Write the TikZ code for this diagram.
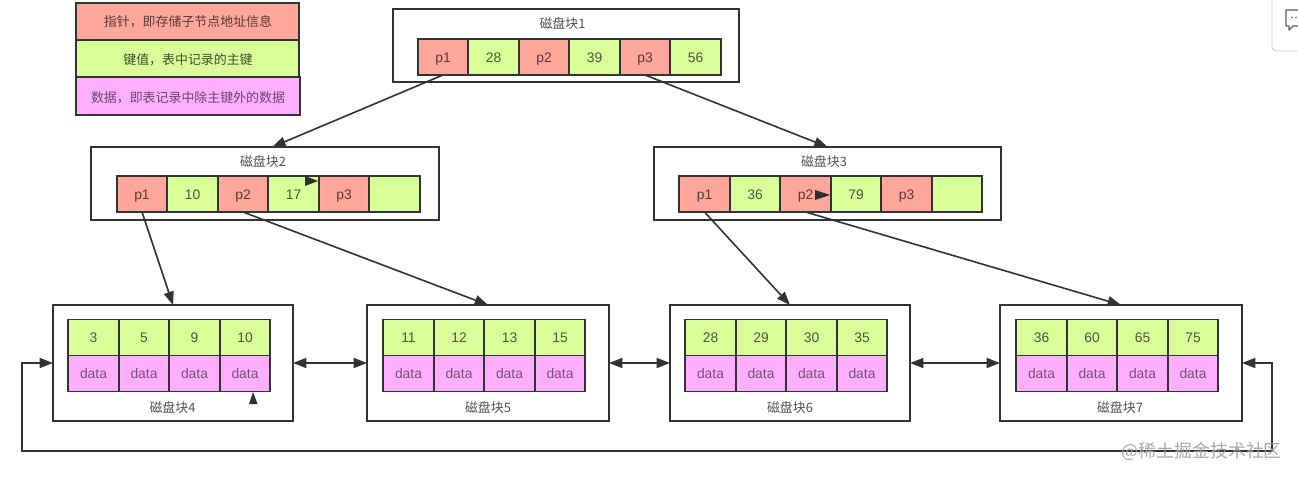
\documentclass[tikz,border=0pt]{standalone}
\usepackage{fontspec}
\setmainfont{Liberation Sans}
\newfontfamily\cjk{Noto Sans CJK SC}
\usetikzlibrary{arrows.meta}
\definecolor{ptrred}{HTML}{FFA79A}
\definecolor{keygreen}{HTML}{D8FF9A}
\definecolor{datapink}{HTML}{FFAFFF}
\definecolor{ink}{HTML}{333333}
\tikzset{
  cellbase/.style={draw=ink,line width=1.3pt,minimum width=37.9pt,minimum height=27pt,inner sep=0pt,outer sep=0pt,text height=8.2pt,text depth=0pt,font=\fontsize{10.4pt}{12pt}\selectfont},
  ptrcell/.style={cellbase,fill=ptrred,text=ptrred!35!black},
  keycell/.style={cellbase,fill=keygreen,text=keygreen!35!black},
  datacell/.style={cellbase,fill=datapink,text=datapink!45!black},
  legendbox/.style={draw=ink,line width=1.3pt,inner sep=0pt,outer sep=0pt},
  legendtext/.style={inner sep=0pt,font=\cjk\fontsize{9.7pt}{12pt}\selectfont},
  blockbox/.style={draw=ink,line width=1.2pt,fill=white,inner sep=0pt,outer sep=0pt},
  blocktitle/.style={text=ink!85,inner sep=0pt,font=\cjk\fontsize{9.7pt}{12pt}\selectfont},
  link/.style={draw=ink,line width=1.2pt,-{Triangle[length=10pt,width=7.5pt]}},
  dlink/.style={draw=ink,line width=1.2pt,{Triangle[length=10pt,width=7.5pt]}-{Triangle[length=10pt,width=7.5pt]}},
  loose/.style={fill=ink!90!black,draw=none}
}
\begin{document}
\begin{tikzpicture}[x=0.75pt,y=-0.75pt]
\useasboundingbox (0,0) rectangle (1298,478);
\fill[white] (0,0) rectangle (1298,478);

% side-panel remnant, top right
\begin{scope}
\clip (0,0) rectangle (1298,478);
\draw[gray!35,line width=0.7pt,rounded corners=3pt] (1272,-10) -- (1272,51) -- (1310,51);
\draw[ink!80,line width=1pt,line join=round] (1298,10) -- (1286,10) -- (1286,26) -- (1289,26) -- (1289,30) -- (1293,26) -- (1298,26);
\fill[ink!80] (1292,17.5) circle (0.9) (1296,17.5) circle (0.9);
\end{scope}

% legend
\node[legendbox,fill=ptrred,minimum width=167.3pt,minimum height=27.4pt] (lg1) at (187.5,21.3) {};
\node[legendbox,fill=keygreen,minimum width=167.3pt,minimum height=28pt] (lg2) at (187.5,58.7) {};
\node[legendbox,fill=datapink,minimum width=168pt,minimum height=28.5pt] (lg3) at (188,96.2) {};
\node[legendtext,text=ptrred!35!black] (lt1) at (188,22) {指针，即存储子节点地址信息};
\node[legendtext,text=keygreen!30!black] (lt2) at (188,60) {键值，表中记录的主键};
\node[legendtext,text=datapink!40!black] (lt3) at (188,98) {数据，即表记录中除主键外的数据};

% blocks
\node[blockbox,minimum width=259.5pt,minimum height=54.8pt] (b1) at (566,45.5) {};
\node[blockbox,minimum width=261pt,minimum height=54.8pt] (b2) at (265,183.5) {};
\node[blockbox,minimum width=260.2pt,minimum height=54.8pt] (b3) at (827.5,183.5) {};
\node[blockbox,minimum width=180pt,minimum height=87pt] (b4) at (173,363) {};
\node[blockbox,minimum width=181.5pt,minimum height=87pt] (b5) at (488,363) {};
\node[blockbox,minimum width=180pt,minimum height=87pt] (b6) at (790,363) {};
\node[blockbox,minimum width=181.5pt,minimum height=87pt] (b7) at (1121,363) {};

\node[blocktitle] (t1) at (562.5,24) {磁盘块1};
\node[blocktitle] (t2) at (263,162) {磁盘块2};
\node[blocktitle] (t3) at (824,162) {磁盘块3};
\node[blocktitle] (t4) at (172.5,408) {磁盘块4};
\node[blocktitle] (t5) at (488,408) {磁盘块5};
\node[blocktitle] (t6) at (790,408) {磁盘块6};
\node[blocktitle] (t7) at (1120,408) {磁盘块7};

% upper cells
\foreach \st/\tx [count=\i from 0] in {ptrcell/p1,keycell/28,ptrcell/p2,keycell/39,ptrcell/p3,keycell/56}
  \node[\st] (a\i) at ({443+50.5*\i},57) {\tx};
\foreach \st/\tx [count=\i from 0] in {ptrcell/p1,keycell/10,ptrcell/p2,keycell/17,ptrcell/p3,keycell/{}}
  \node[\st] (c\i) at ({142+50.5*\i},194) {\tx};
\foreach \st/\tx [count=\i from 0] in {ptrcell/p1,keycell/36,ptrcell/p2,keycell/79,ptrcell/p3,keycell/{}}
  \node[\st] (d\i) at ({704.5+50.5*\i},194) {\tx};

% leaf cells
\foreach \tx [count=\i from 0] in {3,5,9,10}{
  \node[keycell] (e\i) at ({93.5+50.5*\i},337.5) {\tx};
  \node[datacell] (ed\i) at ({93.5+50.5*\i},373.5) {data};}
\foreach \tx [count=\i from 0] in {11,12,13,15}{
  \node[keycell] (f\i) at ({408.5+50.5*\i},337.5) {\tx};
  \node[datacell] (fd\i) at ({408.5+50.5*\i},373.5) {data};}
\foreach \tx [count=\i from 0] in {28,29,30,35}{
  \node[keycell] (g\i) at ({710.5+50.5*\i},337.5) {\tx};
  \node[datacell] (gd\i) at ({710.5+50.5*\i},373.5) {data};}
\foreach \tx [count=\i from 0] in {36,60,65,75}{
  \node[keycell] (h\i) at ({1041.5+50.5*\i},337.5) {\tx};
  \node[datacell] (hd\i) at ({1041.5+50.5*\i},373.5) {data};}

% connectors
\draw[link] (a0.south) -- ([xshift=5.5pt]b2.north);
\draw[link] (a4.south) -- (b3.north);
\draw[link] (c0.south) -- (b4.north);
\draw[link] (c2.south) -- (b5.north);
\draw[link] (d0.south) -- (b6.north);
\draw[link] (d2.south) -- (b7.north);
\draw[dlink] (b4.east) -- (b5.west);
\draw[dlink] (b5.east) -- (b6.west);
\draw[dlink] (b6.east) -- (b7.west);
\coordinate (loopR) at (1272,451);
\coordinate (loopL) at (22,451);
\draw[dlink] (b7.east) -| (loopR) -- (loopL) |- (b4.west);

% loose arrowheads
\fill[loose] (305,176) -- (318,181) -- (305,186) -- cycle;
\fill[loose] (815,190) -- (830,195) -- (815,200) -- cycle;
\fill[loose] (253,392) -- (249,404) -- (257.5,404) -- cycle;

% watermark
\node[inner sep=0pt,anchor=east,text=gray!75,opacity=0.9,font=\cjk\fontsize{13.4pt}{18pt}\selectfont] (wm) at (1282,451) {@稀土掘金技术社区};
\end{tikzpicture}
\end{document}
